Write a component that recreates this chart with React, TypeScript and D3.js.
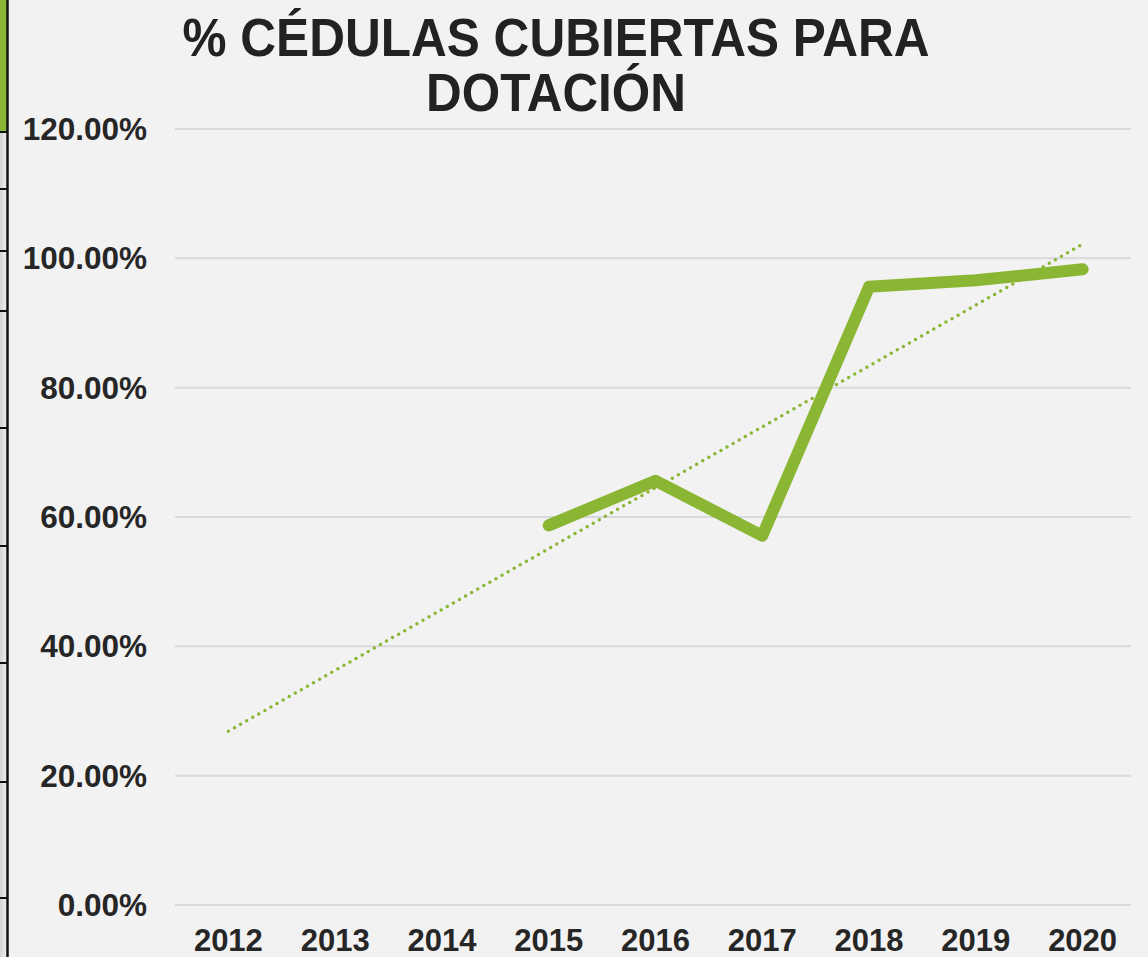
import React from "react";
import * as d3 from "d3";

const years = ["2012", "2013", "2014", "2015", "2016", "2017", "2018", "2019", "2020"];
const pctValues: (number | null)[] = [null, null, null, 58.7, 65.6, 57.1, 95.6, 96.6, 98.3];
const yTicks = [0, 20, 40, 60, 80, 100, 120];
const titleLines = ["% CÉDULAS CUBIERTAS PARA", "DOTACIÓN"];
const sideTicks = [132, 189, 251, 311, 428, 546, 663, 782, 898];

const W = 1148;
const H = 957;
const GREEN = "#8ab634";
const FONT = "'Liberation Sans', Arial, sans-serif";

export default function App() {
  const x = d3.scaleBand<string>().domain(years).range([175, 1136]).paddingInner(0).paddingOuter(0);
  const y = d3.scaleLinear().domain([0, 120]).range([905, 129]);
  const cx = (yr: string) => (x(yr) as number) + x.bandwidth() / 2;

  const pts = years
    .map((yr, i) => ({ yr, i, v: pctValues[i] }))
    .filter((d) => d.v !== null) as { yr: string; i: number; v: number }[];

  const line = d3
    .line<{ yr: string; v: number }>()
    .x((d) => cx(d.yr))
    .y((d) => y(d.v));

  // linear trendline (least squares over category index)
  const mx = d3.mean(pts, (d) => d.i) as number;
  const my = d3.mean(pts, (d) => d.v) as number;
  const sxy = d3.sum(pts, (d) => (d.i - mx) * (d.v - my));
  const sxx = d3.sum(pts, (d) => (d.i - mx) * (d.i - mx));
  const slope = sxy / sxx;
  const icpt = my - slope * mx;
  const trend = years.map((yr, i) => ({ yr, v: icpt + slope * i }));

  return (
    <svg
      width={W}
      height={H}
      style={{ position: "absolute", left: 0, top: 0, display: "block" }}
    >
      <defs>
        <linearGradient id="side" x1="0" x2="1" y1="0" y2="0">
          <stop offset="0" stopColor="#d4d4d4" />
          <stop offset="1" stopColor="#efefef" />
        </linearGradient>
      </defs>
      <rect x={0} y={0} width={W} height={H} fill="#f2f2f2" />
      <rect x={0} y={0} width={7} height={H} fill="url(#side)" />
      <rect x={0} y={0} width={7} height={132} fill={GREEN} />
      {sideTicks.map((t) => (
        <line key={t} x1={0} x2={8} y1={t} y2={t} stroke="#111" strokeWidth={2} />
      ))}
      <line x1={7.5} x2={7.5} y1={0} y2={H} stroke="#111" strokeWidth={2.5} />

      {titleLines.map((t, i) => (
        <text
          key={t}
          x={556}
          y={56 + i * 55}
          textAnchor="middle"
          fontFamily={FONT}
          fontWeight="bold"
          fontSize={53}
          fill="#222"
          textLength={i === 0 ? 747 : 260}
          lengthAdjust="spacingAndGlyphs"
        >
          {t}
        </text>
      ))}

      {yTicks.map((t) => (
        <g key={t}>
          <line x1={175} x2={1131} y1={y(t)} y2={y(t)} stroke="#d9d9d9" strokeWidth={2} />
          <text
            x={147}
            y={y(t) + 11}
            textAnchor="end"
            fontFamily={FONT}
            fontWeight="bold"
            fontSize={31.5}
            fill="#262626"
          >
            {t.toFixed(2) + "%"}
          </text>
        </g>
      ))}

      {years.map((yr) => (
        <text
          key={yr}
          x={cx(yr)}
          y={951}
          textAnchor="middle"
          fontFamily={FONT}
          fontWeight="bold"
          fontSize={31}
          fill="#262626"
        >
          {yr}
        </text>
      ))}

      <path
        d={line(trend) as string}
        fill="none"
        stroke={GREEN}
        strokeWidth={3.5}
        strokeDasharray="0 7"
        strokeLinecap="round"
      />
      <path
        d={line(pts) as string}
        fill="none"
        stroke={GREEN}
        strokeWidth={12}
        strokeLinecap="round"
        strokeLinejoin="round"
      />
    </svg>
  );
}
